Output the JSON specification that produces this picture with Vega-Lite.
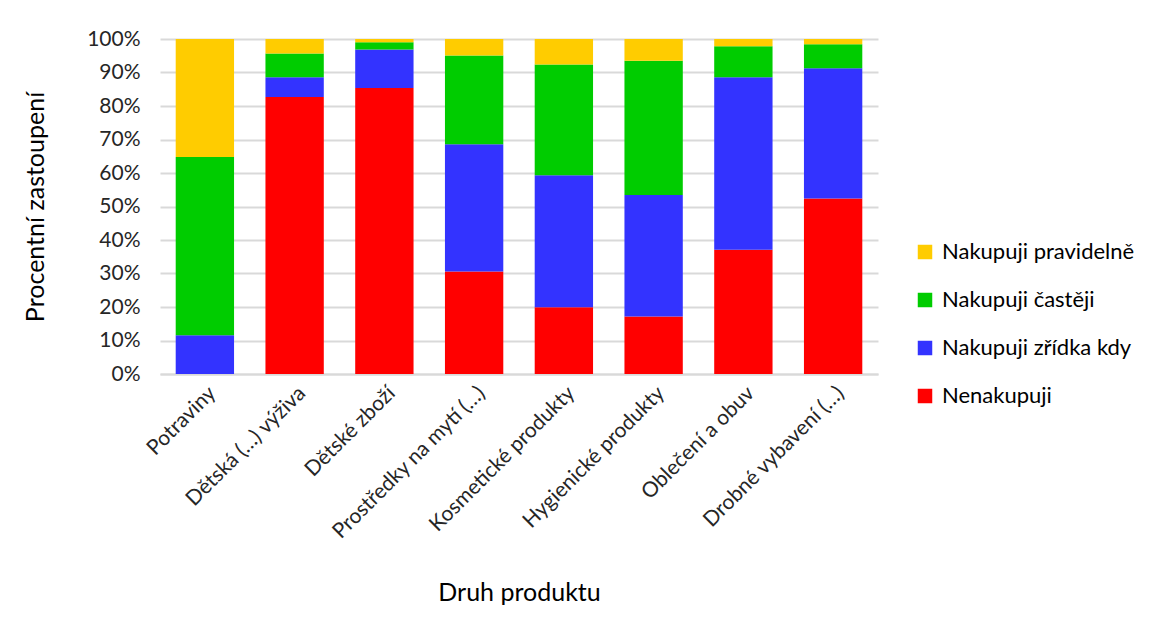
{
  "$schema": "https://vega.github.io/schema/vega-lite/v6.json",
  "autosize": {"type": "none"},
  "width": 718,
  "height": 335,
  "padding": {"left": 160, "top": 39, "right": 295, "bottom": 260},
  "background": "white",
  "config": {
    "font": "Lato",
    "view": {"stroke": null}
  },
  "data": {
    "values": [
      {"produkt": "Potraviny", "kategorie": "Nenakupuji", "poradi": 1, "podil": 0.0},
      {"produkt": "Potraviny", "kategorie": "Nakupuji zřídka kdy", "poradi": 2, "podil": 0.116},
      {"produkt": "Potraviny", "kategorie": "Nakupuji častěji", "poradi": 3, "podil": 0.532},
      {"produkt": "Potraviny", "kategorie": "Nakupuji pravidelně", "poradi": 4, "podil": 0.352},
      {"produkt": "Dětská (…) výživa", "kategorie": "Nenakupuji", "poradi": 1, "podil": 0.827},
      {"produkt": "Dětská (…) výživa", "kategorie": "Nakupuji zřídka kdy", "poradi": 2, "podil": 0.059},
      {"produkt": "Dětská (…) výživa", "kategorie": "Nakupuji častěji", "poradi": 3, "podil": 0.071},
      {"produkt": "Dětská (…) výživa", "kategorie": "Nakupuji pravidelně", "poradi": 4, "podil": 0.043},
      {"produkt": "Dětské zboží", "kategorie": "Nenakupuji", "poradi": 1, "podil": 0.854},
      {"produkt": "Dětské zboží", "kategorie": "Nakupuji zřídka kdy", "poradi": 2, "podil": 0.115},
      {"produkt": "Dětské zboží", "kategorie": "Nakupuji častěji", "poradi": 3, "podil": 0.021},
      {"produkt": "Dětské zboží", "kategorie": "Nakupuji pravidelně", "poradi": 4, "podil": 0.010},
      {"produkt": "Prostředky na mytí (…)", "kategorie": "Nenakupuji", "poradi": 1, "podil": 0.306},
      {"produkt": "Prostředky na mytí (…)", "kategorie": "Nakupuji zřídka kdy", "poradi": 2, "podil": 0.380},
      {"produkt": "Prostředky na mytí (…)", "kategorie": "Nakupuji častěji", "poradi": 3, "podil": 0.265},
      {"produkt": "Prostředky na mytí (…)", "kategorie": "Nakupuji pravidelně", "poradi": 4, "podil": 0.049},
      {"produkt": "Kosmetické produkty", "kategorie": "Nenakupuji", "poradi": 1, "podil": 0.199},
      {"produkt": "Kosmetické produkty", "kategorie": "Nakupuji zřídka kdy", "poradi": 2, "podil": 0.394},
      {"produkt": "Kosmetické produkty", "kategorie": "Nakupuji častěji", "poradi": 3, "podil": 0.331},
      {"produkt": "Kosmetické produkty", "kategorie": "Nakupuji pravidelně", "poradi": 4, "podil": 0.076},
      {"produkt": "Hygienické produkty", "kategorie": "Nenakupuji", "poradi": 1, "podil": 0.172},
      {"produkt": "Hygienické produkty", "kategorie": "Nakupuji zřídka kdy", "poradi": 2, "podil": 0.362},
      {"produkt": "Hygienické produkty", "kategorie": "Nakupuji častěji", "poradi": 3, "podil": 0.401},
      {"produkt": "Hygienické produkty", "kategorie": "Nakupuji pravidelně", "poradi": 4, "podil": 0.065},
      {"produkt": "Oblečení a obuv", "kategorie": "Nenakupuji", "poradi": 1, "podil": 0.371},
      {"produkt": "Oblečení a obuv", "kategorie": "Nakupuji zřídka kdy", "poradi": 2, "podil": 0.515},
      {"produkt": "Oblečení a obuv", "kategorie": "Nakupuji častěji", "poradi": 3, "podil": 0.092},
      {"produkt": "Oblečení a obuv", "kategorie": "Nakupuji pravidelně", "poradi": 4, "podil": 0.022},
      {"produkt": "Drobné vybavení (…)", "kategorie": "Nenakupuji", "poradi": 1, "podil": 0.524},
      {"produkt": "Drobné vybavení (…)", "kategorie": "Nakupuji zřídka kdy", "poradi": 2, "podil": 0.389},
      {"produkt": "Drobné vybavení (…)", "kategorie": "Nakupuji častěji", "poradi": 3, "podil": 0.071},
      {"produkt": "Drobné vybavení (…)", "kategorie": "Nakupuji pravidelně", "poradi": 4, "podil": 0.016}
    ]
  },
  "mark": {"type": "bar"},
  "encoding": {
    "x": {
      "field": "produkt",
      "type": "nominal",
      "sort": null,
      "scale": {"paddingInner": 0.35, "paddingOuter": 0.175},
      "axis": {
        "title": "Druh produktu",
        "titleFont": "Lato",
        "titleFontSize": 25,
        "titleFontWeight": "normal",
        "titleColor": "#000000",
        "titleY": 218,
        "titleBaseline": "middle",
        "labelAngle": -45,
        "labelFontSize": 21,
        "labelColor": "#262626",
        "labelPadding": 8,
        "labelLimit": 0,
        "labelOverlap": false,
        "ticks": false,
        "domainColor": "#d9d9d9",
        "domainWidth": 2
      }
    },
    "y": {
      "field": "podil",
      "type": "quantitative",
      "stack": "zero",
      "scale": {"domain": [0, 1], "nice": false},
      "axis": {
        "title": "Procentní zastoupení",
        "titleFont": "Lato",
        "titleFontSize": 25,
        "titleFontWeight": "normal",
        "titleColor": "#000000",
        "titleX": -125,
        "titleBaseline": "middle",
        "format": ".0%",
        "values": [0, 0.1, 0.2, 0.3, 0.4, 0.5, 0.6, 0.7, 0.8, 0.9, 1.0],
        "labelFontSize": 21,
        "labelColor": "#262626",
        "labelPadding": 20,
        "labelOverlap": false,
        "ticks": false,
        "domain": false,
        "gridColor": "#d9d9d9",
        "gridWidth": 2
      }
    },
    "color": {
      "field": "kategorie",
      "type": "nominal",
      "scale": {
        "domain": ["Nakupuji pravidelně", "Nakupuji častěji", "Nakupuji zřídka kdy", "Nenakupuji"],
        "range": ["#FFCC00", "#00CC00", "#3333FF", "#FF0000"]
      },
      "legend": {
        "title": null,
        "orient": "none",
        "legendX": 754,
        "legendY": 202,
        "symbolType": "square",
        "symbolSize": 210,
        "symbolStrokeWidth": 0,
        "labelFontSize": 22,
        "labelLimit": 0,
        "labelColor": "#000000",
        "labelOffset": 6,
        "rowPadding": 26
      }
    },
    "order": {"field": "poradi", "type": "quantitative"}
  }
}
